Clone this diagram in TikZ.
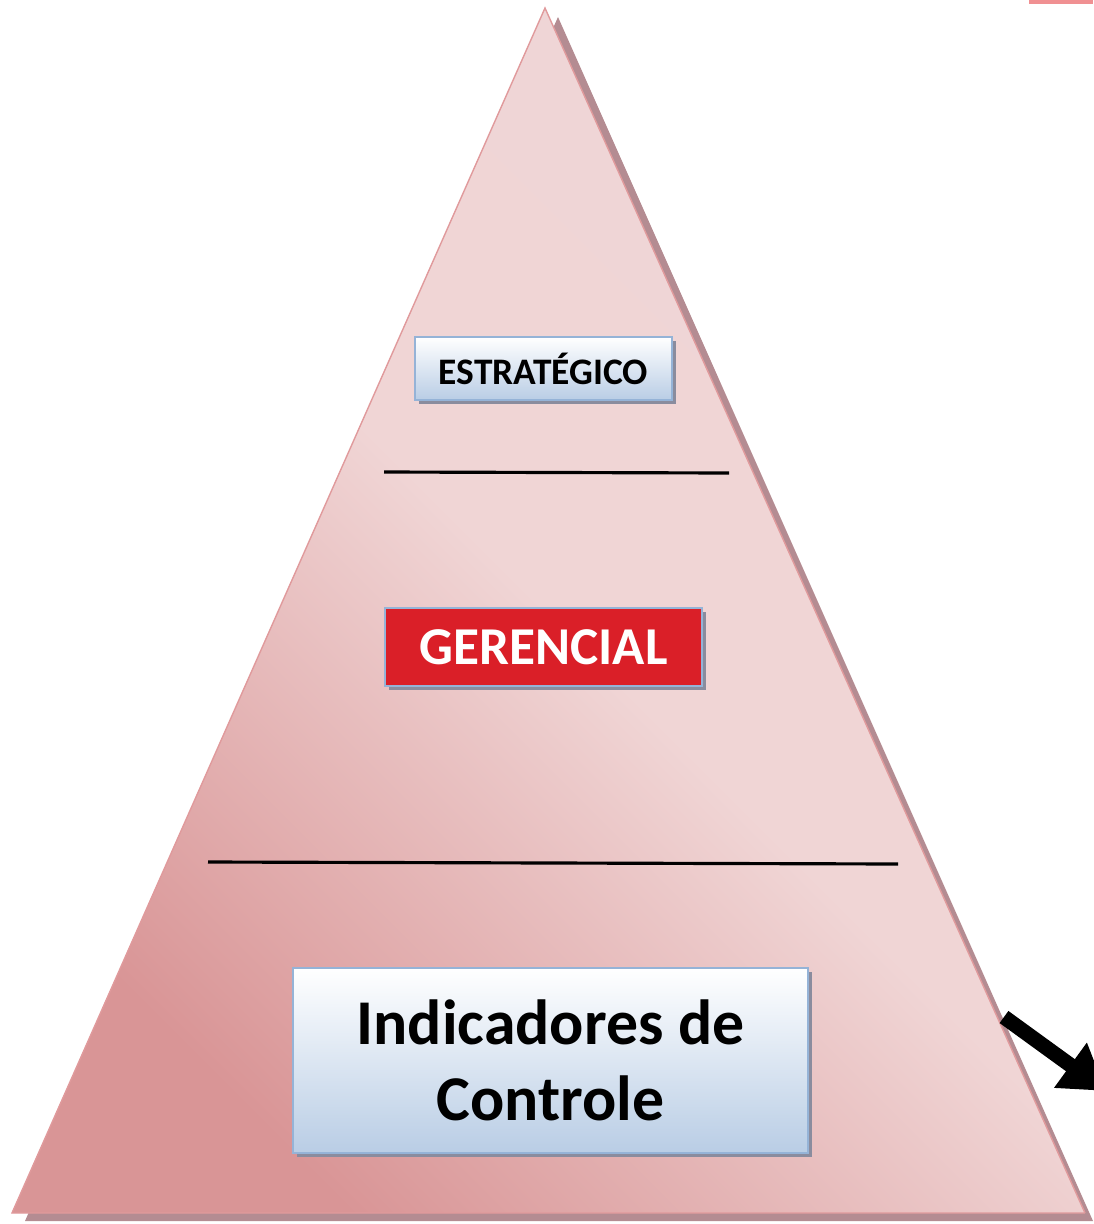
\documentclass[tikz,border=0pt]{standalone}
\usepackage{fontspec}
\setmainfont{Carlito}
\usetikzlibrary{arrows.meta}
\usetikzlibrary{shadows}

\definecolor{pyrdark}{HTML}{D99596}
\definecolor{pyrmid}{HTML}{F0D5D5}
\definecolor{pyrlight}{HTML}{EFD5D6}
\definecolor{pyredge}{HTML}{E09A9C}
\definecolor{pyrshadow}{HTML}{B48C92}
\definecolor{boxblue}{HTML}{B9CDE5}
\definecolor{boxedge}{HTML}{95B3D7}
\definecolor{boxshadow}{HTML}{8A8C9E}
\definecolor{boxred}{HTML}{DA1F28}
\definecolor{topmark}{HTML}{F09092}

\tikzset{
  level/.style = {draw = boxedge, line width = 1.2pt, top color = white,
    bottom color = boxblue, font = \bfseries, align = center,
    inner sep = 0pt,
    drop shadow = {shadow xshift = 2.5pt, shadow yshift = -2.5pt,
      fill = boxshadow, opacity = 1}},
  divider/.style = {line width = 1.8pt}
}

\begin{document}
\begin{tikzpicture}[x = 0.02cm, y = -0.02cm]
  \useasboundingbox (0, 0) rectangle (1093, 1224);

  \coordinate (apex) at (545, 8);
  \coordinate (bl) at (12, 1213);
  \coordinate (br) at (1085, 1213);

  % pyramid with its shadow
  \fill[pyrshadow] (558, 17) -- (25, 1221) -- (1093, 1221) -- cycle;
  \shade[left color = pyrlight, right color = pyrdark, middle color = pyrmid,
  shading angle = -45] (apex) -- (bl) -- (br) -- cycle;
  \draw[pyredge, line width = 0.8pt] (br) -- (apex) -- (bl) -- (br);

  \fill[topmark] (1029, 0) rectangle (1093, 4);

  % level dividers
  \draw[divider] (384, 472) -- (729, 473);
  \draw[divider] (208, 862) -- (898, 864);

  \node[level, minimum width = 5.14cm, minimum height = 1.26cm,
  font = \bfseries\fontsize{21.3}{25}\selectfont] (estr) at (543.5, 368.5)
  {ESTRATÉGICO};
  \node[level, fill = boxred, top color = boxred, bottom color = boxred,
  text = white, minimum width = 6.34cm, minimum height = 1.56cm,
  font = \bfseries\fontsize{30.3}{34}\selectfont] (ger) at (543.5, 647)
  {GERENCIAL};
  \node[level, minimum width = 10.3cm, minimum height = 3.7cm,
  font = \bfseries\fontsize{36.3}{43}\selectfont] (ind) at (550.5, 1060.5)
  {Indicadores de\\Controle};

  % arrow leaving the pyramid
  \coordinate (arrs) at (1004, 1017);
  \coordinate (arre) at (1106, 1091);
  \draw[line width = 8.5pt, -{Triangle[length = 25pt, width = 30pt]}]
  (arrs) -- (arre);
\end{tikzpicture}
\end{document}
